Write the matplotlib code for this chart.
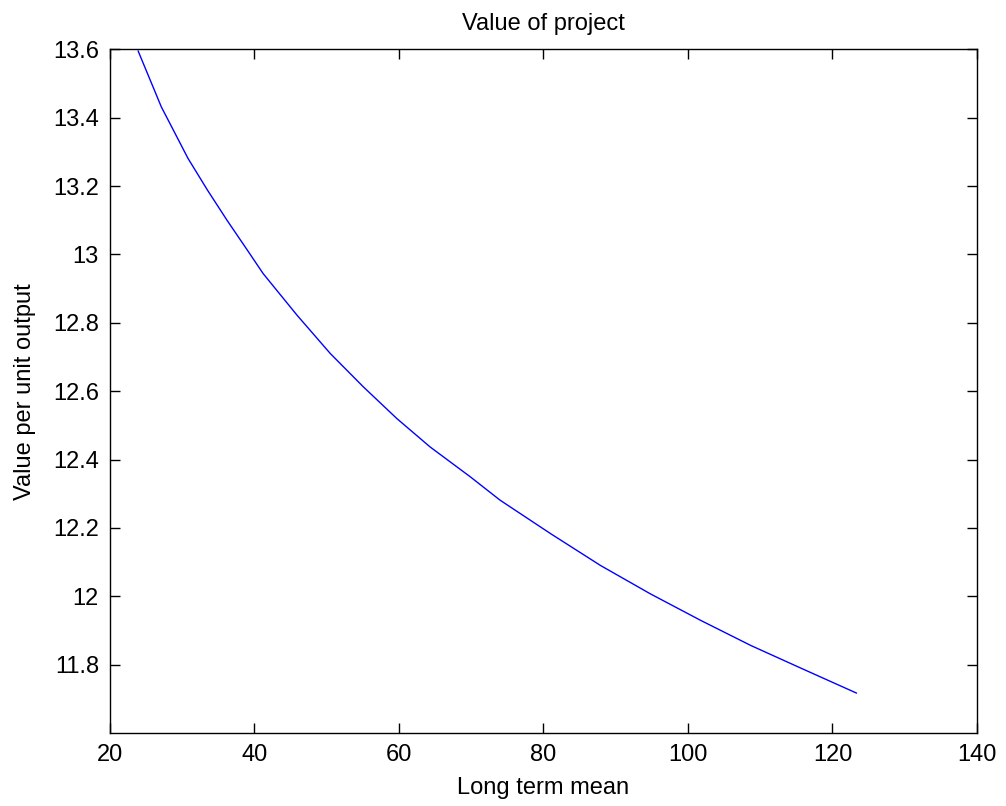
import numpy as np
import matplotlib.pyplot as plt

# values
long_term_mean = [23.9, 27.1, 30.8, 33.5, 36.2, 39.0, 41.2, 45.9, 50.5, 55.1,
                  59.7, 64.3, 69.9, 74.0, 81.0, 87.9, 94.8, 101.8,
                  108.7, 115.6, 123.3]
value_per_unit = [13.595, 13.432, 13.281, 13.188, 13.100, 13.013, 12.944,
                  12.822, 12.710, 12.612, 12.520, 12.437, 12.349, 12.281,
                  12.183, 12.090, 12.007, 11.929, 11.856, 11.790, 11.717]
x_ticks = [20, 40, 60, 80, 100, 120, 140]
y_ticks = [11.8, 12.0, 12.2, 12.4, 12.6, 12.8, 13.0, 13.2, 13.4, 13.6]
y_labels = ['11.8', '12', '12.2', '12.4', '12.6', '12.8', '13', '13.2', '13.4', '13.6']

plt.rcParams['font.family'] = ['Liberation Sans', 'DejaVu Sans']

fig = plt.figure(figsize=(10.06, 8.06), dpi=100)
ax = fig.add_axes([110 / 1006, 1 - 733 / 806, 867 / 1006, (733 - 49.4) / 806])

ax.plot(long_term_mean, value_per_unit, color='#0000ff', linewidth=1.0)

ax.set_xlim(20, 140)
ax.set_ylim(11.6, 13.6)
ax.set_xticks(x_ticks)
ax.set_yticks(y_ticks)
ax.set_yticklabels(y_labels)
ax.tick_params(direction='in', top=True, right=True, length=7, width=1,
               labelsize=17, pad=8)
for s in ax.spines.values():
    s.set_linewidth(1)

ax.set_title('Value of project', fontsize=17, pad=14)
ax.set_xlabel('Long term mean', fontsize=17, labelpad=8)
ax.set_ylabel('Value per unit output', fontsize=17, labelpad=12)

fig.savefig('out.png', dpi=100)
